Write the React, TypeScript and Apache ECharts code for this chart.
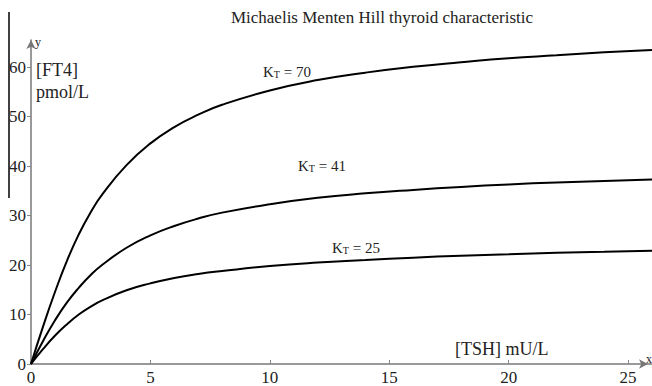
import React, { useEffect, useRef } from "react";
import * as echarts from "echarts";

// TSH values (mU/L) at which the curves were read
const tshValues = [0, 0.5, 1, 1.5, 2, 2.5, 3, 4, 5, 6, 7, 8, 10, 12, 14, 16, 18, 20, 22, 24, 26];
// FT4 (pmol/L) for each K_T
const ft4K70 = [0, 7.5, 14.5, 20.8, 26.2, 30.7, 34.4, 40.2, 44.6, 47.9, 50.4, 52.4, 55.3, 57.4, 58.9, 60.1, 61.0, 61.8, 62.4, 63.0, 63.5];
const ft4K41 = [0, 4.6, 8.8, 12.4, 15.4, 18.0, 20.1, 23.5, 26.0, 27.9, 29.4, 30.6, 32.3, 33.6, 34.5, 35.2, 35.8, 36.3, 36.7, 37.0, 37.3];
const ft4K25 = [0, 3.0, 5.7, 8.0, 10.0, 11.6, 12.9, 14.9, 16.3, 17.4, 18.2, 18.8, 19.8, 20.5, 21.0, 21.5, 21.9, 22.2, 22.5, 22.7, 22.9];
const curveLabels = ["70", "41", "25"];
const xTicks = [0, 5, 10, 15, 20, 25];
const yTicks = [0, 10, 20, 30, 40, 50, 60];

const SERIF = "'Liberation Serif', 'Times New Roman', serif";

export default function App() {
  const ref = useRef<HTMLDivElement>(null);
  useEffect(() => {
    if (!ref.current) return;
    const chart = echarts.init(ref.current, null, { renderer: "svg" });
    const mk = (vals: number[]) => tshValues.map((x, i) => [x, vals[i]]);
    const lineSeries = (name: string, vals: number[]) => ({
      name,
      type: "line",
      data: mk(vals),
      showSymbol: false,
      smooth: 0.5,
      lineStyle: { color: "#000", width: 2 },
      z: 5,
    });
    const kLabel = (val: string, x: number, y: number) => ({
      type: "text",
      x,
      y,
      style: {
        text: "{k|K}{t|T}{k| = " + val + "}",
        rich: {
          k: { fontFamily: SERIF, fontSize: 15, fill: "#222", verticalAlign: "bottom" },
          t: { fontFamily: SERIF, fontSize: 10, fill: "#222", verticalAlign: "bottom" },
        },
      },
    });
    chart.setOption({
      animation: false,
      backgroundColor: "#fff",
      grid: { left: 31, top: 40, width: 622, height: 328, containLabel: false },
      xAxis: {
        type: "value",
        min: 0,
        max: 26,
        interval: 5,
        axisLine: {
          show: true,
          lineStyle: { color: "#777", width: 1.5 },
          symbol: ["none", "arrow"],
          symbolSize: [7, 9],
          symbolOffset: [0, -4],
        },
        axisTick: { show: true, inside: true, length: 4, lineStyle: { color: "#888" }, customValues: xTicks },
        axisLabel: {
          color: "#222",
          fontFamily: SERIF,
          fontSize: 17,
          margin: 5,
          customValues: xTicks,
        },
        splitLine: { show: false },
      },
      yAxis: {
        type: "value",
        min: 0,
        max: 65.5,
        interval: 10,
        axisLine: {
          show: true,
          lineStyle: { color: "#777", width: 1.5 },
          symbol: ["none", "arrow"],
          symbolSize: [7, 9],
          symbolOffset: [0, 0],
        },
        axisTick: { show: true, inside: false, length: 4, lineStyle: { color: "#888" }, customValues: yTicks },
        axisLabel: {
          color: "#222",
          fontFamily: SERIF,
          fontSize: 17,
          margin: 5,
          customValues: yTicks,
        },
        splitLine: { show: false },
      },
      series: [
        lineSeries("K70", ft4K70),
        lineSeries("K41", ft4K41),
        lineSeries("K25", ft4K25),
      ],
      graphic: [
        {
          type: "text",
          x: 382,
          y: 9,
          style: {
            text: "Michaelis Menten Hill thyroid characteristic",
            fontFamily: SERIF,
            fontSize: 17,
            fill: "#222",
            textAlign: "center",
          },
        },
        { type: "line", shape: { x1: 9, y1: 12, x2: 9, y2: 198 }, style: { stroke: "#000", lineWidth: 1.5 } },
        { type: "text", x: 35, y: 36, style: { text: "y", fontFamily: SERIF, fontSize: 12, fill: "#222" } },
        { type: "text", x: 646, y: 353, style: { text: "x", fontFamily: SERIF, fontSize: 12, fill: "#222" } },
        { type: "text", x: 36, y: 61, style: { text: "[FT4]", fontFamily: SERIF, fontSize: 18, fill: "#222" } },
        { type: "text", x: 36, y: 83, style: { text: "pmol/L", fontFamily: SERIF, fontSize: 18, fill: "#222" } },
        { type: "text", x: 455, y: 340, style: { text: "[TSH] mU/L", fontFamily: SERIF, fontSize: 18, fill: "#222" } },
        kLabel(curveLabels[0], 263, 64),
        kLabel(curveLabels[1], 298, 158),
        kLabel(curveLabels[2], 332, 240),
      ],
    });
    return () => chart.dispose();
  }, []);
  return (
    <div
      ref={ref}
      style={{ position: "fixed", left: 0, top: 0, width: 652, height: 386, background: "#fff" }}
    />
  );
}
